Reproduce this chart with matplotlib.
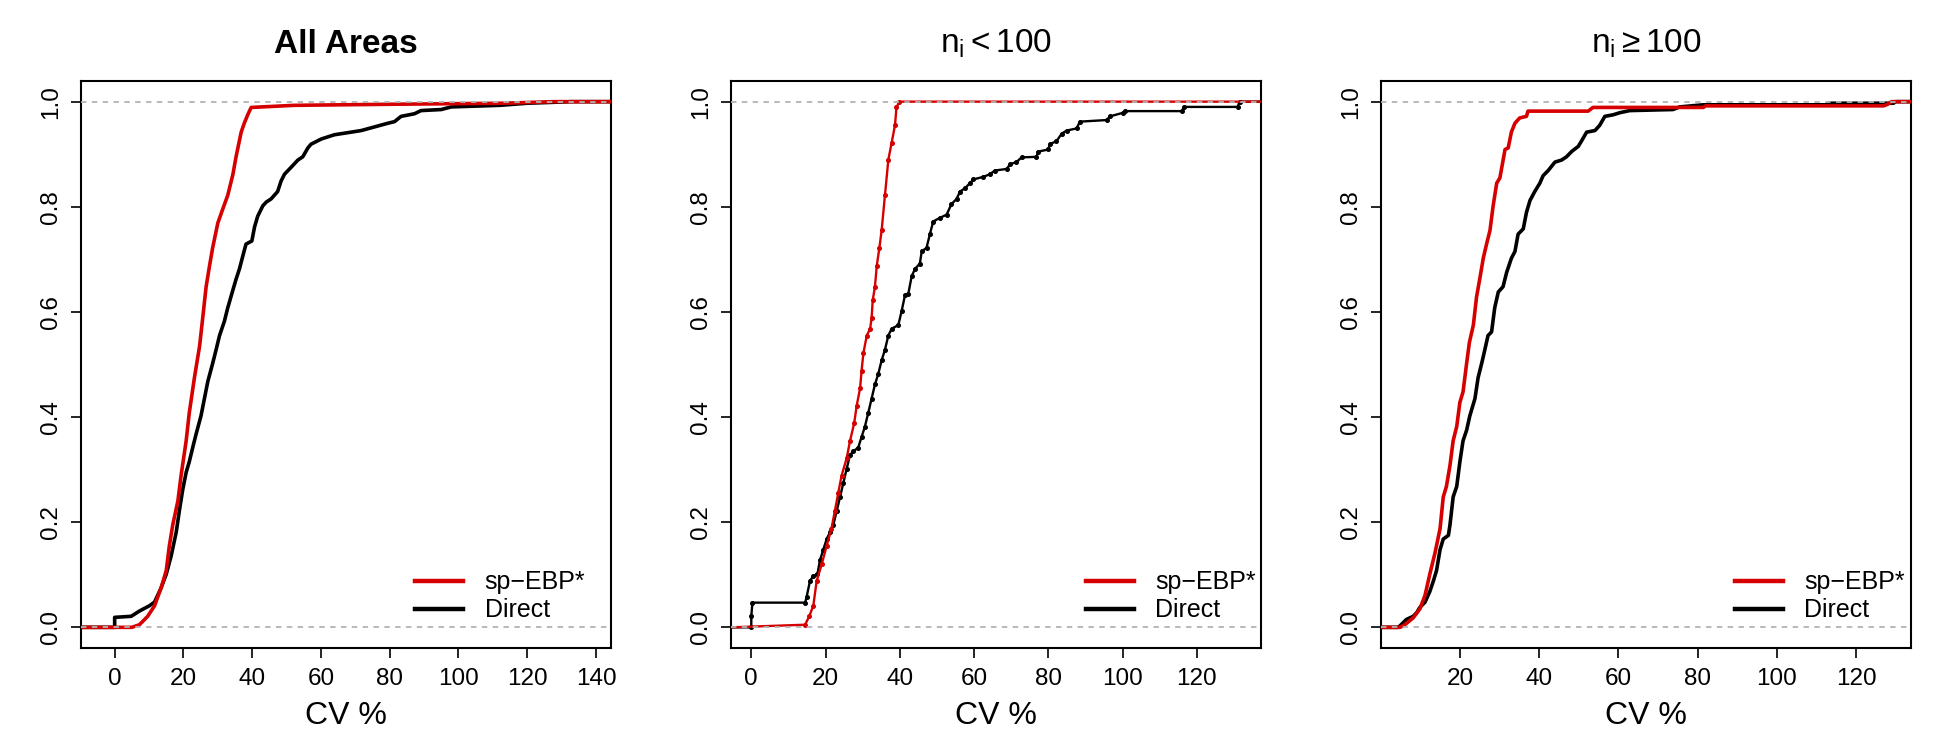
import numpy as np
import matplotlib.pyplot as plt

plt.rcParams['font.family'] = ['Liberation Sans', 'DejaVu Sans']
plt.rcParams['mathtext.fontset'] = 'custom'
plt.rcParams['mathtext.rm'] = 'Liberation Sans'
plt.rcParams['mathtext.it'] = 'Liberation Sans'

# ECDF curves: CV % and cumulative proportion
# --- All Areas
all_ebp_x = [5, 7.2, 9.6, 11.6, 13.5, 15.0, 15.9, 16.9, 18.4, 19.3, 20.8, 21.7, 23.2, 24.7, 25.6,
             26.6, 27.6, 28.5, 30.0, 31.4, 32.9, 34.4, 35.3, 36.8, 37.7, 38.7, 39.7, 52.3, 79.5, 113, 128]
all_ebp_f = [0, 0.005, 0.021, 0.041, 0.075, 0.108, 0.155, 0.195, 0.241, 0.288, 0.355, 0.408, 0.475, 0.535, 0.588,
             0.648, 0.688, 0.722, 0.769, 0.795, 0.822, 0.862, 0.895, 0.942, 0.959, 0.975, 0.989, 0.993, 0.995, 0.997, 1.0]
all_dir_x = [0, 0, 4.8, 7.2, 10.1, 11.6, 13.5, 15.0, 16.4, 17.9, 18.8, 19.8, 20.8, 21.7, 22.7, 23.7,
             25.1, 26.1, 27.1, 28.5, 29.5, 30.5, 31.9, 32.9, 34.4, 35.3, 36.3, 37.5, 38.2, 39.9, 40.7,
             41.6, 43.1, 44.1, 45.5, 47.4, 48.4, 49.4, 51.3, 53.3, 54.7, 56.2, 57.1, 60.1, 63.9, 67.8,
             71.7, 75.6, 79.5, 81.4, 83.3, 87.2, 89.1, 95.0, 97.9, 112, 120, 133]
all_dir_f = [0, 0.019, 0.021, 0.031, 0.041, 0.048, 0.075, 0.101, 0.135, 0.181, 0.221, 0.262, 0.295, 0.315, 0.342, 0.368,
             0.402, 0.435, 0.468, 0.502, 0.528, 0.555, 0.582, 0.608, 0.642, 0.662, 0.682, 0.712, 0.729, 0.735, 0.762,
             0.782, 0.802, 0.809, 0.815, 0.829, 0.849, 0.862, 0.875, 0.889, 0.895, 0.912, 0.919, 0.929, 0.937, 0.941,
             0.945, 0.952, 0.959, 0.962, 0.972, 0.977, 0.983, 0.985, 0.990, 0.993, 0.997, 1.0]

# --- n_i < 100
small_ebp_x = [14.5, 15.6, 16.7, 17.6, 19.0, 20.3, 21.6, 22.5, 23.4, 24.3, 25.7, 26.6, 27.7, 28.4, 29.3, 29.7,
               30.2, 31.1, 32.0, 32.4, 32.7, 33.3, 33.8, 34.5, 35.1, 36.0, 36.9, 37.8, 38.7, 39.1, 39.9]
small_ebp_f = [0.005, 0.021, 0.041, 0.088, 0.121, 0.155, 0.188, 0.221, 0.255, 0.288, 0.322, 0.355, 0.388, 0.422, 0.455, 0.488,
               0.522, 0.555, 0.568, 0.588, 0.622, 0.648, 0.688, 0.722, 0.755, 0.822, 0.889, 0.922, 0.955, 0.989, 1.0]
small_dir_x = [0, 0, 0.3, 14.5, 14.9, 15.8, 16.7, 17.8, 18.5, 19.4, 20.3, 21.2, 22.1, 23.0, 23.9, 24.8, 25.7,
               26.6, 27.5, 28.8, 29.7, 30.6, 31.5, 32.4, 33.3, 34.2, 35.1, 36.0, 36.9, 37.8, 39.6, 40.5,
               41.4, 42.3, 43.2, 44.1, 45.4, 45.9, 47.2, 48.1, 49.0, 50.8, 52.6, 53.9, 55.3, 56.2, 57.5,
               58.9, 59.8, 62.5, 64.3, 65.6, 68.8, 69.7, 71.4, 72.8, 76.8, 77.3, 80.0, 80.4, 82.2, 83.6,
               84.9, 87.6, 88.5, 95.7, 96.6, 100.2, 100.6, 116, 116.5, 131, 131.5]
small_dir_f = [0, 0.021, 0.047, 0.047, 0.058, 0.088, 0.098, 0.101, 0.128, 0.148, 0.168, 0.181, 0.195, 0.221, 0.248, 0.275, 0.302,
               0.328, 0.335, 0.342, 0.362, 0.382, 0.408, 0.435, 0.462, 0.482, 0.508, 0.528, 0.555, 0.568, 0.575, 0.602,
               0.632, 0.635, 0.668, 0.682, 0.692, 0.715, 0.722, 0.748, 0.772, 0.779, 0.785, 0.805, 0.815, 0.829, 0.835,
               0.845, 0.852, 0.857, 0.862, 0.869, 0.872, 0.881, 0.885, 0.894, 0.895, 0.905, 0.909, 0.919, 0.925, 0.939,
               0.945, 0.949, 0.962, 0.965, 0.972, 0.979, 0.982, 0.982, 0.990, 0.990, 1.0]

# --- n_i >= 100
large_ebp_x = [4.9, 6.1, 8.2, 9.9, 11.2, 12.4, 13.7, 15.0, 15.8, 16.6, 17.5, 18.3, 19.2, 20.0, 20.8,
               21.7, 22.4, 23.4, 24.2, 25.0, 25.9, 26.7, 27.6, 28.4, 29.3, 30.1, 31.4, 32.2, 33.0, 33.9,
               35.1, 36.8, 37.2, 52.4, 53.6, 81.5, 82, 127, 128, 129]
large_ebp_f = [0, 0.005, 0.018, 0.035, 0.061, 0.101, 0.141, 0.188, 0.248, 0.268, 0.308, 0.355, 0.382, 0.428, 0.448,
               0.502, 0.542, 0.575, 0.628, 0.662, 0.702, 0.728, 0.755, 0.802, 0.845, 0.855, 0.909, 0.912, 0.942, 0.959,
               0.969, 0.972, 0.982, 0.982, 0.989, 0.989, 0.992, 0.992, 0.995, 1.0]
large_dir_x = [4.4, 4.9, 6.5, 8.2, 9.1, 9.9, 11.2, 12.4, 13.3, 14.1, 15.0, 15.8, 17.1, 17.5, 18.3,
               19.2, 20.0, 20.8, 21.7, 22.5, 23.8, 24.6, 25.5, 26.3, 27.1, 28.0, 28.8, 29.7, 30.9, 31.8,
               33.0, 33.9, 34.7, 36.0, 36.8, 37.7, 38.9, 40.2, 41.0, 42.3, 44.0, 45.7, 46.9, 48.2, 49.9,
               50.7, 52.0, 54.1, 55.3, 56.6, 58.7, 60.4, 62.9, 73.8, 75.5, 81.4, 112.5, 113, 129.5, 130]
large_dir_f = [0, 0.003, 0.015, 0.021, 0.028, 0.038, 0.048, 0.068, 0.088, 0.108, 0.148, 0.168, 0.175, 0.195, 0.248,
               0.268, 0.315, 0.355, 0.375, 0.402, 0.435, 0.475, 0.502, 0.528, 0.555, 0.562, 0.608, 0.638, 0.648, 0.675,
               0.702, 0.715, 0.748, 0.758, 0.789, 0.812, 0.829, 0.845, 0.859, 0.869, 0.885, 0.889, 0.895, 0.905, 0.915,
               0.925, 0.942, 0.945, 0.955, 0.972, 0.975, 0.979, 0.983, 0.985, 0.990, 0.994, 0.994, 0.997, 0.997, 1.0]

titles = ['All Areas', r'$\mathregular{n_i < 100}$', r'$\mathregular{n_i \geq 100}$']
title_weights = ['bold', 'normal', 'normal']
x_limits = [(-9.7, 144.4), (-5.4, 137.3), (0.13, 133.9)]
x_ticks = [[0, 20, 40, 60, 80, 100, 120, 140], [0, 20, 40, 60, 80, 100, 120], [20, 40, 60, 80, 100, 120]]
y_ticks = [0.0, 0.2, 0.4, 0.6, 0.8, 1.0]
series_names = ['sp\u2212EBP*', 'Direct']
series_colors = ['#d60000', 'black']

panels = [[(all_ebp_x, all_ebp_f), (all_dir_x, all_dir_f)],
          [(small_ebp_x, small_ebp_f), (small_dir_x, small_dir_f)],
          [(large_ebp_x, large_ebp_f), (large_dir_x, large_dir_f)]]

fig = plt.figure(figsize=(19.5, 7.5), dpi=100)
lefts = [0.0417, 0.375, 0.7083]
legend_x = [0.97, 1.009, 1.0075]

for i in range(3):
    ax = fig.add_axes([lefts[i], 0.1355, 0.2717, 0.757])
    lo, hi = x_limits[i]
    # Direct first, sp-EBP* on top
    for j in [1, 0]:
        cx, cf = panels[i][j]
        xs = np.concatenate([[lo], cx, [hi]])
        fs = np.concatenate([[0], cf, [1]])
        lw = 1.7 if i == 1 else 2.6
        ax.plot(xs, fs, color=series_colors[j], lw=lw, zorder=3 - j)
        if i == 1:
            ax.plot(cx, cf, 'o', ms=2.6, color=series_colors[j], zorder=3 - j)
    # dashed reference lines at 0 and 1, over the curves as in R
    for h in [0, 1]:
        ax.axhline(h, color='#b3b3b3', lw=1.3, ls=(0, (3, 3)), zorder=5)

    ax.set_xlim(lo, hi)
    ax.set_ylim(-0.04, 1.04)
    ax.set_xticks(x_ticks[i])
    ax.set_yticks(y_ticks)
    ax.set_yticklabels(['%.1f' % v for v in y_ticks], rotation=90, va='center')
    ax.tick_params(direction='out', length=7, width=1.2, labelsize=17.5, pad=7)
    for sp in ax.spines.values():
        sp.set_linewidth(1.5)

    ax.set_title(titles[i], fontsize=24, fontweight=title_weights[i], pad=20)
    ax.set_xlabel('CV %', fontsize=23, labelpad=8)

    handles = [plt.Line2D([], [], color=c, lw=3.2) for c in series_colors]
    ax.legend(handles, series_names, loc='lower right', bbox_to_anchor=(legend_x[i], 0.028),
              borderaxespad=0, frameon=False, fontsize=18, handlelength=1.92,
              handletextpad=0.85, labelspacing=0.16)

plt.savefig('out.png', dpi=100)
